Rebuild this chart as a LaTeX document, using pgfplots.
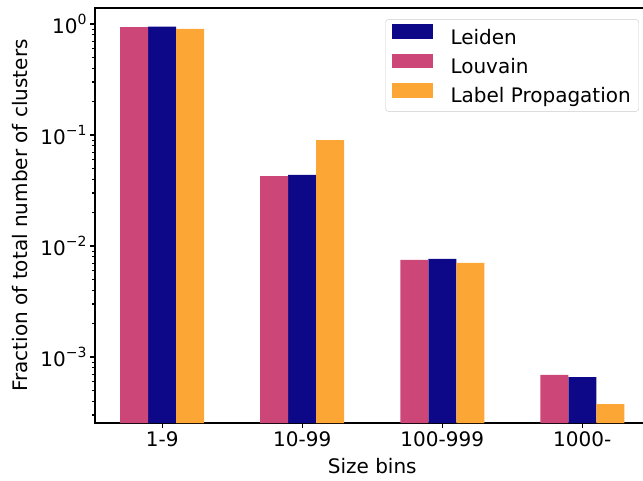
\documentclass[border=0pt]{standalone}
\usepackage{pgfplots}
\pgfplotsset{compat=1.18}
\usepackage{fontspec}
\setmainfont{DejaVu Sans}
\definecolor{cLeiden}{HTML}{0D0887}
\definecolor{cLouvain}{HTML}{CC4778}
\definecolor{cLP}{HTML}{FCA636}
\newcommand{\tp}[1]{10\raisebox{0.8ex}{\fontsize{14}{14}\selectfont #1}}
\begin{document}
\begin{tikzpicture}[font=\fontsize{20}{24}\selectfont]
\path[use as bounding box] (0,0) rectangle (643pt,481pt);
\begin{axis}[
  at={(95pt,58pt)}, anchor=south west,
  scale only axis, width=554.5pt, height=415pt,
  ymode=log, log origin y=infty,
  ymin=2.543e-4, ymax=1.393, xmin=-0.48, xmax=3.48,
  ybar, bar width=28pt,
  xtick={0,1,2,3}, xticklabels={1-9,10-99,100-999,1000-},
  ytick={1,0.1,0.01,0.001}, yticklabels={\tp{0},\tp{−1},\tp{−2},\tp{−3}},
  minor ytick={3e-4,4e-4,5e-4,6e-4,7e-4,8e-4,9e-4,
    2e-3,3e-3,4e-3,5e-3,6e-3,7e-3,8e-3,9e-3,
    2e-2,3e-2,4e-2,5e-2,6e-2,7e-2,8e-2,9e-2,
    2e-1,3e-1,4e-1,5e-1,6e-1,7e-1,8e-1,9e-1},
  xtick pos=bottom, ytick pos=left,
  tick align=outside,
  major tick length=5pt, minor tick length=3pt,
  every tick/.style={black, line width=1.1pt},
  axis line style={black, line width=1.1pt},
  xlabel={Size bins},
  ylabel={Fraction of total number of clusters},
  x label style={at={(axis description cs:0.5,-0.104)}, anchor=center},
  y label style={at={(axis description cs:-0.135,0.5)}, anchor=center},
  legend style={at={(0.981,0.973)}, anchor=north east,
    draw=black!20, rounded corners=3pt, fill=white, fill opacity=0.8, text opacity=1,
    row sep=6pt, column sep=16pt, inner xsep=6pt, inner ysep=5pt},
  legend cell align=left,
  legend image code/.code={\fill[#1, fill opacity=1, sharp corners] (0pt,-1.5pt) rectangle (41pt,13pt);},
]
\addplot[fill=cLeiden, draw=none, bar shift=0pt] coordinates {(0,0.945) (1,0.0436) (2,0.00764) (3,6.6e-4)};
\addlegendentry{Leiden}
\addplot[fill=cLouvain, draw=none, bar shift=-28pt] coordinates {(0,0.939) (1,0.0427) (2,0.00748) (3,6.89e-4)};
\addlegendentry{Louvain}
\addplot[fill=cLP, draw=none, bar shift=28pt] coordinates {(0,0.901) (1,0.090) (2,0.00703) (3,3.77e-4)};
\addlegendentry{Label Propagation}
\end{axis}
\end{tikzpicture}
\end{document}
